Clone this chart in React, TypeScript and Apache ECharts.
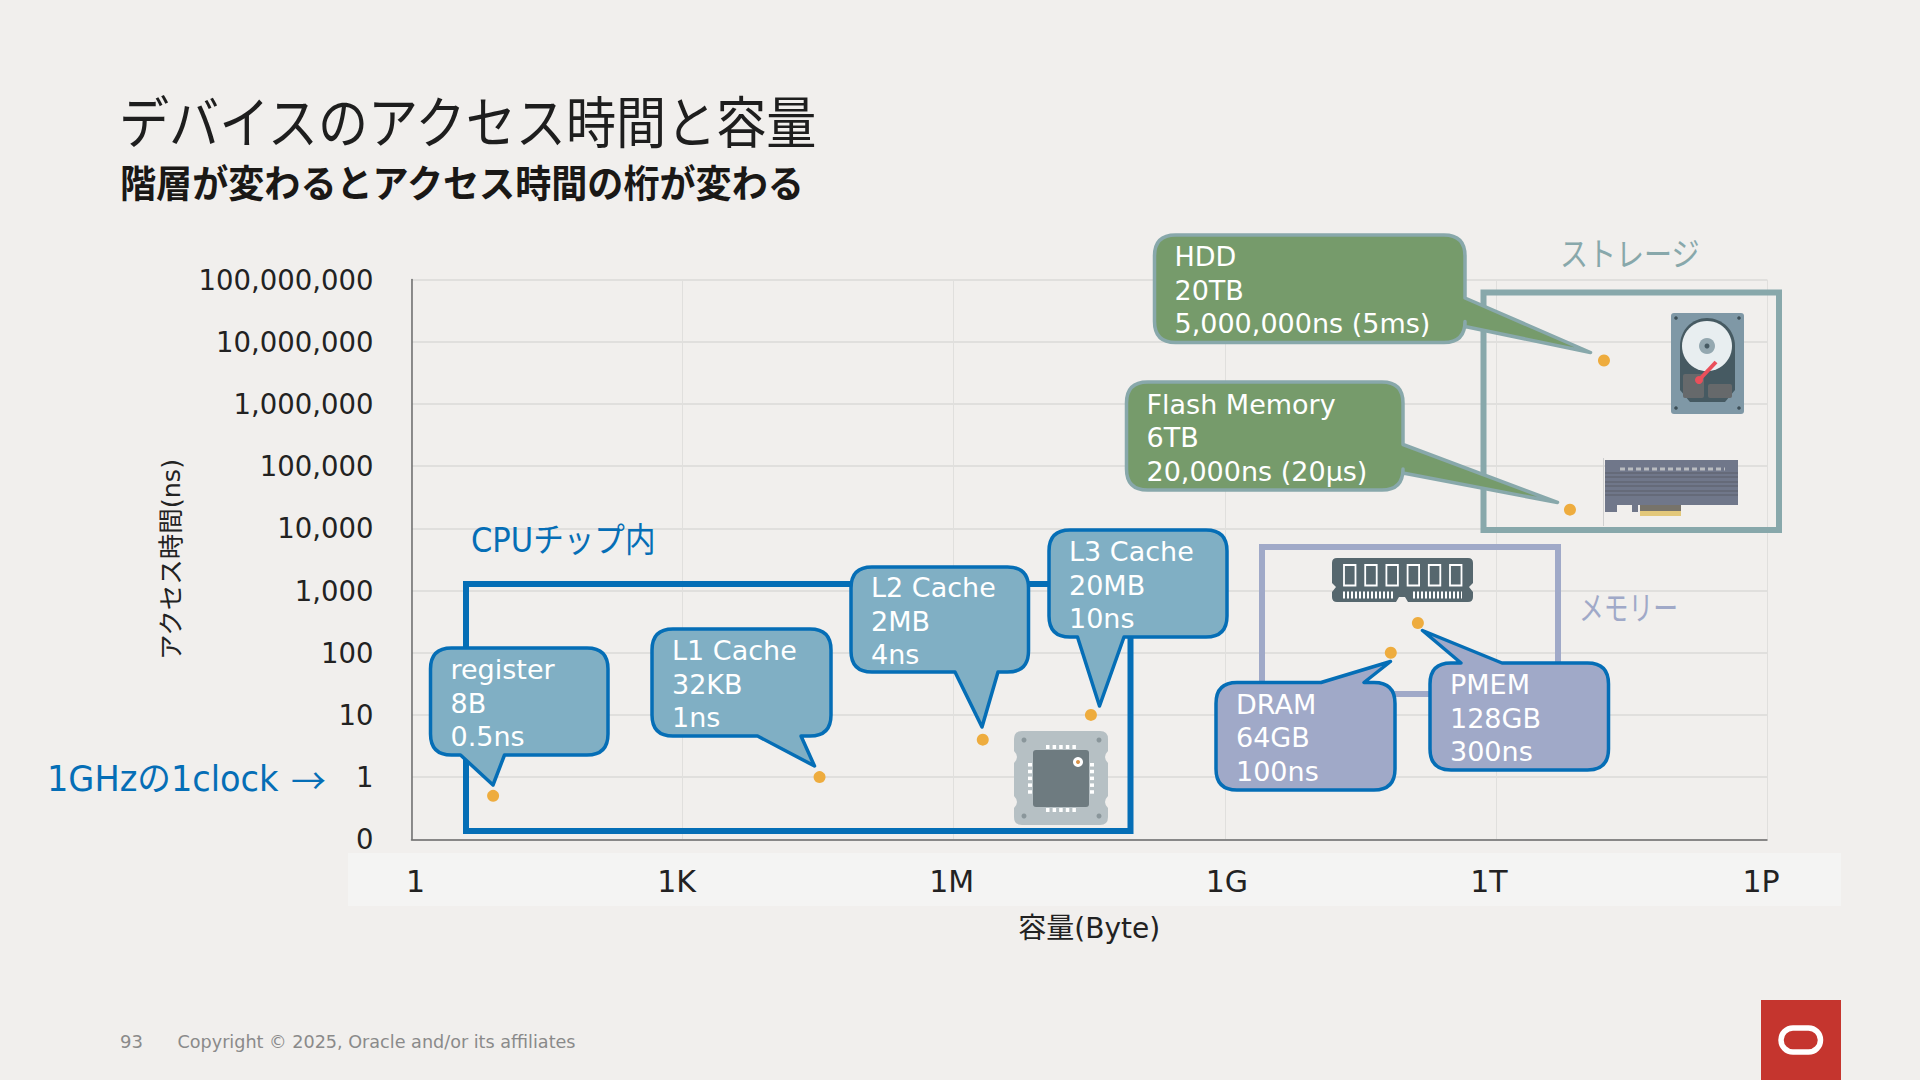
import React, { useEffect, useRef } from "react";
import * as echarts from "echarts";

const categories = ["register", "L1 Cache", "L2 Cache", "L3 Cache", "DRAM", "PMEM", "Flash Memory", "HDD"];
const capacityBytes = [8, 32768, 2097152, 33000000, 68700000000, 137000000000, 6600000000000, 15700000000000];
const accessNs = [0.5, 1, 4, 10, 100, 300, 20000, 5000000];
const capacityLabels = ["8B", "32KB", "2MB", "20MB", "64GB", "128GB", "6TB", "20TB"];
const accessLabels = ["0.5ns", "1ns", "4ns", "10ns", "100ns", "300ns", "20,000ns (20µs)", "5,000,000ns (5ms)"];
const xTickLabels = ["1", "1K", "1M", "1G", "1T", "1P"];
const yZeroLabel = "0";

const FONT = '"DejaVu Sans","Noto Sans CJK JP",sans-serif';
const BG = "#f1efed";
const BLUE = "#056eb6";
const TEAL = "#88a8ab";
const LAV = "#a0a9c8";
const xLabelShift = [4, -6, -2, 2, -7, -6];

type Tail = { side: "top" | "right" | "bottom"; a: number; b: number; tx: number; ty: number };
type Box = { l: number; t: number; r: number; b: number; tail: Tail; fill: string; stroke: string };

const boxes: Box[] = [
  { l: 430.5, t: 648, r: 608, b: 755, tail: { side: "bottom", a: 460.5, b: 504.5, tx: 493, ty: 785 }, fill: "#80afc4", stroke: BLUE },
  { l: 652, t: 629, r: 831, b: 736, tail: { side: "bottom", a: 757.5, b: 801, tx: 814.5, ty: 766 }, fill: "#80afc4", stroke: BLUE },
  { l: 851, t: 567, r: 1028.5, b: 672, tail: { side: "bottom", a: 955, b: 998, tx: 982, ty: 727 }, fill: "#80afc4", stroke: BLUE },
  { l: 1049, t: 530, r: 1227, b: 637, tail: { side: "bottom", a: 1077.5, b: 1124, tx: 1099.5, ty: 706 }, fill: "#80afc4", stroke: BLUE },
  { l: 1216, t: 682.5, r: 1395, b: 790, tail: { side: "top", a: 1321, b: 1364, tx: 1390.5, ty: 661.5 }, fill: LAV, stroke: BLUE },
  { l: 1430, t: 663, r: 1608.5, b: 770, tail: { side: "top", a: 1461, b: 1502, tx: 1422.5, ty: 630.5 }, fill: LAV, stroke: BLUE },
  { l: 1126.5, t: 382, r: 1403, b: 490, tail: { side: "right", a: 444.5, b: 473, tx: 1557.5, ty: 502.5 }, fill: "#769b6b", stroke: TEAL },
  { l: 1154.5, t: 235, r: 1465, b: 342.5, tail: { side: "right", a: 298, b: 326.5, tx: 1590.5, ty: 352.5 }, fill: "#769b6b", stroke: TEAL },
];

function calloutPath(c: Box): string {
  const R = 21;
  const { l, t, r, b, tail: k } = c;
  let d = `M${l + R} ${t}`;
  if (k.side === "top") d += `L${k.a} ${t}L${k.tx} ${k.ty}L${k.b} ${t}`;
  d += `L${r - R} ${t}Q${r} ${t} ${r} ${t + R}`;
  if (k.side === "right") d += `L${r} ${k.a}L${k.tx} ${k.ty}L${r} ${k.b}`;
  d += `L${r} ${b - R}Q${r} ${b} ${r - R} ${b}`;
  if (k.side === "bottom") d += `L${k.b} ${b}L${k.tx} ${k.ty}L${k.a} ${b}`;
  d += `L${l + R} ${b}Q${l} ${b} ${l} ${b - R}L${l} ${t + R}Q${l} ${t} ${l + R} ${t}Z`;
  return d;
}

boxes.forEach((c, i) => {
  echarts.graphic.registerShape("callout" + i, (echarts.graphic as any).extendPath(calloutPath(c), {}));
});
const ramPath =
  "M1337 558L1468 558Q1473 558 1473 563L1473 583L1469 587L1473 592L1473 597Q1473 602 1468 602L1408 602L1405 597L1399 597L1396 602L1337 602Q1332 602 1332 597L1332 592L1336 587L1332 583L1332 563Q1332 558 1337 558Z";
echarts.graphic.registerShape("ramBody", (echarts.graphic as any).extendPath(ramPath, {}));
const cpuPath =
  "M1022 731L1100 731Q1108 731 1108 739L1108 751Q1102 757 1108 763L1108 796Q1102 802 1108 808L1108 817Q1108 825 1100 825L1022 825Q1014 825 1014 817L1014 808Q1020 802 1014 796L1014 763Q1020 757 1014 751L1014 739Q1014 731 1022 731Z";
echarts.graphic.registerShape("cpuPlate", (echarts.graphic as any).extendPath(cpuPath, {}));
const hddBodyPath =
  "M1680 346C1680 330 1692 318 1707 318C1722 318 1735 330 1735 346L1735 390L1725 402L1690 402L1680 390Z";
echarts.graphic.registerShape("hddBody", (echarts.graphic as any).extendPath(hddBodyPath, {}));

function rect(x: number, y: number, w: number, h: number, fill: string, z: number, r = 0) {
  return { type: "rect", z, shape: { x, y, width: w, height: h, r }, style: { fill } };
}
function frame(x0: number, y0: number, x1: number, y1: number, stroke: string, z: number, lineWidth = 6, r = 0) {
  return { type: "rect", z, shape: { x: x0, y: y0, width: x1 - x0, height: y1 - y0, r }, style: { fill: "none", stroke, lineWidth } };
}
function label(text: string, x: number, y: number, size: number, fill: string, z: number, extra: any = {}, scaleX = 1) {
  return {
    type: "text", z, x, y, scaleX,
    style: { text, fill, fontSize: size, fontFamily: FONT, align: "left", verticalAlign: "middle", ...extra },
  };
}
function line(x1: number, y1: number, x2: number, y2: number, stroke: string, lineWidth: number, z: number, extra: any = {}) {
  return { type: "line", z, shape: { x1, y1, x2, y2 }, style: { stroke, lineWidth, ...extra } };
}

function icons(): any[] {
  const out: any[] = [];
  // CPU
  out.push({ type: "cpuPlate", z: 4, style: { fill: "#b6c0c4" } });
  out.push(rect(1033, 750, 56, 57, "#6e7b80", 5, 3));
  for (let i = 0; i < 5; i++) {
    out.push(rect(1046 + i * 6.6, 745, 3.5, 4, "#ffffff", 5));
    out.push(rect(1046 + i * 6.6, 808, 3.5, 4, "#ffffff", 5));
    out.push(rect(1028, 763 + i * 6.8, 4, 3.5, "#ffffff", 5));
    out.push(rect(1090, 763 + i * 6.8, 4, 3.5, "#ffffff", 5));
  }
  out.push({ type: "circle", z: 6, shape: { cx: 1078, cy: 762, r: 5 }, style: { fill: "#ffffff" } });
  out.push({ type: "circle", z: 6, shape: { cx: 1078, cy: 762, r: 2 }, style: { fill: "#d9934a" } });
  [[1024, 740], [1099, 740], [1024, 816], [1099, 816]].forEach(([cx, cy]) =>
    out.push({ type: "circle", z: 5, shape: { cx, cy, r: 2.5 }, style: { fill: "#8a969b" } }));
  // HDD
  out.push(rect(1671, 313, 73, 101, "#7f98a6", 4, 3));
  out.push({ type: "hddBody", z: 5, style: { fill: "#465a62" } });
  out.push({ type: "circle", z: 6, shape: { cx: 1707, cy: 346, r: 25 }, style: { fill: "#e8eef0" } });
  out.push({ type: "circle", z: 7, shape: { cx: 1707, cy: 346, r: 8 }, style: { fill: "#94a8b0" } });
  out.push({ type: "circle", z: 8, shape: { cx: 1707, cy: 346, r: 2.5 }, style: { fill: "#465a62" } });
  out.push(rect(1683, 374, 21, 24, "#66696b", 6, 2));
  out.push(rect(1708, 384, 24, 14, "#66696b", 6, 2));
  out.push(line(1700, 379, 1716, 362, "#ea4f5a", 4, 9));
  out.push({ type: "circle", z: 9, shape: { cx: 1699, cy: 380, r: 4 }, style: { fill: "#ea4f5a" } });
  [[1676, 318], [1739, 318], [1676, 408], [1739, 408]].forEach(([cx, cy]) =>
    out.push({ type: "circle", z: 5, shape: { cx, cy, r: 1.8 }, style: { fill: "#3d4f57" } }));
  // Flash card
  out.push(line(1603.5, 458, 1603.5, 526, "#cfcfcf", 1, 4));
  out.push(rect(1605, 460, 133, 45, "#70778a", 4));
  out.push(rect(1605, 505, 12, 7, "#70778a", 4));
  out.push(rect(1632, 505, 6, 7, "#70778a", 4));
  out.push(rect(1640, 505, 41, 6, "#77736a", 4));
  out.push(rect(1640, 511, 41, 5, "#e3c87a", 4));
  out.push(line(1620, 469, 1725, 469, "#b9bcc0", 3, 5, { lineDash: [5, 3] }));
  [473, 477, 482, 486, 491, 495].forEach((y) => out.push(line(1605, y, 1738, y, "#5a5f68", 1.2, 5)));
  // RAM
  out.push({ type: "ramBody", z: 4, style: { fill: "#56676e" } });
  for (let i = 0; i < 6; i++) {
    out.push({
      type: "rect", z: 5, shape: { x: 1344 + i * 21.2, y: 565, width: 11.5, height: 20.5 },
      style: { fill: "none", stroke: "#ffffff", lineWidth: 1.8 },
    });
  }
  out.push(line(1343, 595, 1393, 595, "#ffffff", 7, 5, { lineDash: [2, 2] }));
  out.push(line(1413, 595, 1462, 595, "#ffffff", 7, 5, { lineDash: [2, 2] }));
  // Oracle logo
  out.push(rect(1761, 1000, 80, 80, "#c5352e", 4));
  out.push(frame(1781, 1028, 1820.5, 1052, "#ffffff", 5, 5.5, 12));
  return out;
}

function graphics(): any[] {
  const els: any[] = [];
  els.push(rect(348, 853, 1493, 53, "#f4f4f3", 0));
  els.push(label("デバイスのアクセス時間と容量", 119, 124, 56, "#1e1e1e", 10, {}, 0.895));
  els.push(label("階層が変わるとアクセス時間の桁が変わる", 120, 184, 38, "#1a1816", 10, { fontWeight: "bold" }, 0.95));
  els.push(frame(466, 584, 1130.5, 831, BLUE, 3));
  els.push(frame(1262, 547, 1558, 694, LAV, 3));
  els.push(frame(1483.5, 292.5, 1779, 530, TEAL, 3));
  els.push(label("CPUチップ内", 471, 540, 34, BLUE, 10, {}, 0.9));
  els.push(label("ストレージ", 1560, 255, 33, TEAL, 10, {}, 0.85));
  els.push(label("メモリー", 1579, 609, 33, LAV, 10, {}, 0.75));
  els.push(label("1GHzの1clock", 47, 778.5, 35, BLUE, 10, {}, 0.96));
  els.push(label("→", 291, 778.5, 35, BLUE, 10, { fontFamily: '"Noto Sans CJK JP"' }));
  els.push(label("93", 120, 1041.5, 18, "#8a8a8a", 10));
  els.push(label("Copyright © 2025, Oracle and/or its affiliates", 177.5, 1041.5, 18, "#8a8a8a", 10, {}, 0.978));
  els.push(...icons());
  boxes.forEach((c, i) => {
    els.push({ type: "callout" + i, z: 20, style: { fill: c.fill, stroke: c.stroke, lineWidth: 3.5, lineJoin: "round" } });
    els.push(
      label([categories[i], capacityLabels[i], accessLabels[i]].join("\n"), c.l + 20, (c.t + c.b) / 2 + 1.5, 27, "#ffffff", 21, { lineHeight: 33.5 })
    );
  });
  return els;
}

const richX: any = {};
xLabelShift.forEach((s, i) => {
  richX["s" + i] = {
    fontSize: 30, fontFamily: FONT, color: "#222222",
    padding: s >= 0 ? [0, 0, 0, 2 * s] : [0, -2 * s, 0, 0],
  };
});

export default function App() {
  const ref = useRef<HTMLDivElement>(null);
  useEffect(() => {
    document.body.style.margin = "0";
    document.body.style.background = BG;
    const chart = echarts.init(ref.current!, undefined, { renderer: "svg" });
    chart.setOption({
      animation: false,
      backgroundColor: BG,
      grid: { left: 411.5, top: 279.6, width: 1355.5, height: 559.7, containLabel: false },
      xAxis: {
        type: "log", logBase: 1000, min: 1, max: 1e15, splitNumber: 5,
        name: "容量(Byte)", nameLocation: "middle", nameGap: 75,
        nameTextStyle: { fontSize: 28, fontFamily: FONT, color: "#222222" },
        axisLine: { show: true, onZero: false, lineStyle: { color: "#6b6b6b", width: 1.5 } },
        axisTick: { show: false },
        minorTick: { show: false },
        splitLine: { show: true, lineStyle: { color: "#e0dfdd", width: 1 } },
        axisLabel: {
          margin: 27,
          formatter: (v: number) => {
            const i = Math.round(Math.log(v) / Math.log(1000));
            return `{s${i}|${xTickLabels[i]}}`;
          },
          rich: richX,
        },
      },
      yAxis: {
        type: "log", logBase: 10, min: 0.1, max: 1e8, splitNumber: 9,
        name: "アクセス時間(ns)", nameLocation: "middle", nameGap: 228, nameRotate: 90,
        nameTextStyle: { fontSize: 25.5, fontFamily: FONT, color: "#222222" },
        axisLine: { show: true, onZero: false, lineStyle: { color: "#6b6b6b", width: 1.5 } },
        axisTick: { show: false },
        splitLine: { show: true, lineStyle: { color: "#e0dfdd", width: 2 } },
        axisLabel: {
          margin: 38, fontSize: 27.5, fontFamily: FONT, color: "#222222",
          formatter: (v: number) => (v < 1 ? yZeroLabel : Math.round(v).toLocaleString("en-US")),
        },
      },
      series: [
        {
          type: "scatter", z: 6, symbol: "circle", symbolSize: 12,
          itemStyle: { color: "#eeac3e", opacity: 1 },
          data: categories.map((c, i) => ({ name: c, value: [capacityBytes[i], accessNs[i]] })),
        },
      ],
      graphic: { elements: graphics() },
    });
    return () => chart.dispose();
  }, []);
  return <div ref={ref} style={{ position: "fixed", left: 0, top: 0, width: 1920, height: 1080 }} />;
}
